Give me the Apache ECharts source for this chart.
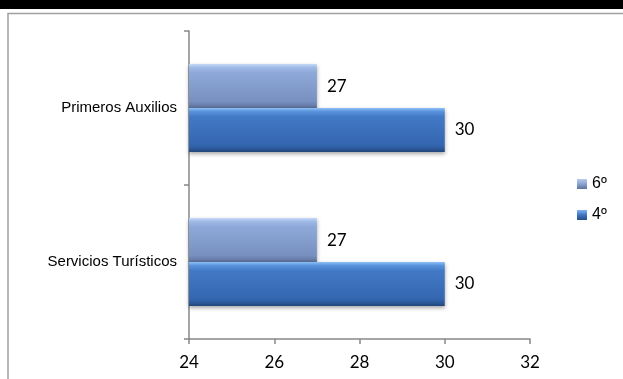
<!DOCTYPE html>
<html><head><meta charset="utf-8">
<script src="https://cdn.jsdelivr.net/npm/echarts@6/dist/echarts.min.js"></script>
<style>html,body{margin:0;padding:0;background:#fff}#c{width:623px;height:379px}</style>
</head><body><div id="c"></div>
<script>
const categories = ['Servicios Turísticos', 'Primeros Auxilios'];
const seriesNames = ['6º', '4º'];
const values6 = [27, 27];
const values4 = [30, 30];
const xTicks = [24, 26, 28, 30, 32];

const chart = echarts.init(document.getElementById('c'), null, {renderer: 'canvas'});
function grad(stops) {
  return new echarts.graphic.LinearGradient(0, 0, 0, 1, stops.map(s => ({offset: s[0], color: s[1]})));
}
const c6 = grad([[0, '#c4d8f6'], [0.08, '#9fb9e6'], [0.2, '#8ea9d9'], [0.85, '#7890c0'], [0.93, '#6a80ad'], [1, '#586b92']]);
const c4 = grad([[0, '#8ec0f6'], [0.08, '#5a93dc'], [0.2, '#4279c6'], [0.85, '#3466b0'], [0.93, '#2b5898'], [1, '#214679']]);
const l6 = grad([[0, '#b8ccee'], [0.5, '#8aa3d2'], [1, '#5d7299']]);
const l4 = grad([[0, '#7eb2f0'], [0.5, '#3d74c0'], [1, '#234d86']]);
const labelStyle = {show: true, position: 'right', distance: 10, fontFamily: 'Lato', fontSize: 17, color: '#000'};
const legendText = {fontFamily: 'Liberation Sans', fontSize: 16, color: '#000'};
chart.setOption({
  animation: false,
  graphic: [
    {type: 'rect', shape: {x: 0, y: 0, width: 623, height: 9}, style: {fill: '#000'}, z: 10},
    {type: 'rect', shape: {x: 8, y: 13.5, width: 700, height: 400}, style: {fill: 'none', stroke: '#a0a0a0', lineWidth: 1.5}, z: 10}
  ],
  grid: {left: 189, right: 93, top: 31, bottom: 40},
  legend: {
    orient: 'vertical', left: 572, top: 171, itemGap: 15,
    itemWidth: 10, itemHeight: 10, icon: 'rect',
    data: [{name: '6º', itemStyle: {color: l6}, textStyle: legendText}, {name: '4º', itemStyle: {color: l4}, textStyle: legendText}],
    textStyle: legendText
  },
  xAxis: {
    type: 'value', min: xTicks[0], max: xTicks[xTicks.length - 1], interval: 2,
    splitLine: {show: false},
    axisLine: {show: true, lineStyle: {color: '#888', width: 1.5}},
    axisTick: {show: true, length: 5, lineStyle: {color: '#888', width: 1.5}},
    axisLabel: {fontFamily: 'Lato', fontSize: 17, color: '#000', margin: 15}
  },
  yAxis: {
    type: 'category', data: categories,
    axisLine: {show: true, lineStyle: {color: '#888', width: 1.5}},
    axisTick: {show: true, length: 5, lineStyle: {color: '#888', width: 1.5}},
    axisLabel: {fontFamily: 'Liberation Sans', fontSize: 15, color: '#000', margin: 12}
  },
  series: [
    {name: seriesNames[0], type: 'bar', data: values6, barGap: '0%', barCategoryGap: '43%',
     itemStyle: {color: c6, shadowBlur: 4, shadowOffsetY: 2, shadowColor: 'rgba(0,0,0,0.35)'}, label: labelStyle},
    {name: seriesNames[1], type: 'bar', data: values4, barGap: '0%', barCategoryGap: '43%',
     itemStyle: {color: c4, shadowBlur: 4, shadowOffsetY: 2, shadowColor: 'rgba(0,0,0,0.35)'}, label: labelStyle}
  ]
});
</script></body></html>
